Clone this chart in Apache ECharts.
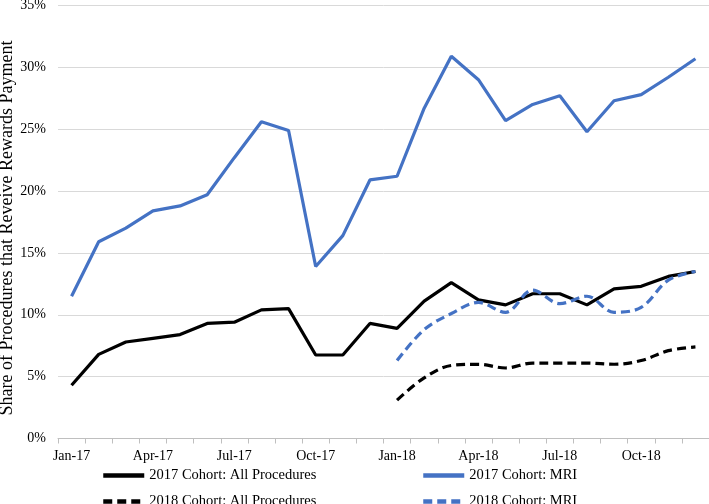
<!DOCTYPE html>
<html><head><meta charset="utf-8">
<script src="https://cdn.jsdelivr.net/npm/echarts@6/dist/echarts.min.js"></script>
<style>html,body{margin:0;padding:0;background:#fff}#c{width:709px;height:504px}</style>
</head><body><div id="c"></div>
<script>
const months = ['Jan-17','Feb-17','Mar-17','Apr-17','May-17','Jun-17','Jul-17','Aug-17','Sep-17','Oct-17','Nov-17','Dec-17',
  'Jan-18','Feb-18','Mar-18','Apr-18','May-18','Jun-18','Jul-18','Aug-18','Sep-18','Oct-18','Nov-18','Dec-18'];
const cohort2017All = [4.3,6.8,7.8,8.1,8.4,9.3,9.4,10.4,10.5,6.75,6.75,9.3,8.9,11.1,12.6,11.2,10.8,11.7,11.7,10.8,12.1,12.3,13.1,13.5];
const cohort2017MRI = [11.5,15.9,17.0,18.4,18.8,19.7,22.7,25.6,24.9,13.9,16.4,20.9,21.2,26.7,30.9,29.0,25.7,27.0,27.7,24.8,27.3,27.8,29.2,30.7];
const cohort2018All = [null,null,null,null,null,null,null,null,null,null,null,null,3.1,4.9,5.9,6.0,5.7,6.1,6.1,6.1,6.0,6.3,7.1,7.4];
const cohort2018MRI = [null,null,null,null,null,null,null,null,null,null,null,null,6.3,8.8,10.1,11.0,10.2,12.0,10.9,11.5,10.2,10.6,12.8,13.5];
const yTicks = [0,5,10,15,20,25,30,35];

const font = '"Liberation Serif","DejaVu Serif",serif';
const blue = '#4472C4';
const chart = echarts.init(document.getElementById('c'));
function legend(name, left, top){
  return {data:[name], left:left, top:top, itemWidth:41, itemHeight:14, itemGap:5,
    itemStyle:{opacity:0, borderWidth:0},
    lineStyle:{width:4.5},
    textStyle:{fontFamily:font, fontSize:14.5, color:'#000'}, selectedMode:false, padding:0};
}
chart.setOption({
  animation:false,
  grid:{left:58, right:0, top:5.5, bottom:65.5, containLabel:false, outerBoundsMode:'none'},
  legend:[
    legend('2017 Cohort: All Procedures', 101, 468),
    legend('2017 Cohort: MRI', 421, 468),
    legend('2018 Cohort: All Procedures', 101, 494),
    legend('2018 Cohort: MRI', 421, 494)
  ],
  xAxis:{type:'category', data:months, boundaryGap:true,
    axisLine:{lineStyle:{color:'#bfbfbf', width:1}},
    axisTick:{show:true, interval:0, length:5, lineStyle:{color:'#bfbfbf'}},
    axisLabel:{interval:2, fontFamily:font, fontSize:14, color:'#000', margin:11}},
  yAxis:{type:'value', min:yTicks[0], max:yTicks[yTicks.length-1], interval:5,
    name:'Share of Procedures that Reveive Rewards Payment', nameLocation:'middle', nameGap:42, nameRotate:90,
    nameMoveOverlap:false,
    nameTextStyle:{fontFamily:font, fontSize:18, color:'#000', padding:[0,12,0,0]},
    axisLabel:{formatter:v=>v+'%', fontFamily:font, fontSize:14, color:'#000', margin:12},
    axisLine:{show:false}, axisTick:{show:false},
    splitLine:{lineStyle:{color:'#d9d9d9', width:1}}},
  series:[
    {name:'2017 Cohort: All Procedures', type:'line', data:cohort2017All, symbol:'none', lineStyle:{color:'#000', width:3.2}, itemStyle:{color:'#000'}},
    {name:'2017 Cohort: MRI', type:'line', data:cohort2017MRI, symbol:'none', lineStyle:{color:blue, width:3.2}, itemStyle:{color:blue}},
    {name:'2018 Cohort: All Procedures', type:'line', data:cohort2018All, symbol:'none', smooth:0.35, lineStyle:{color:'#000', width:3.2, type:[9,5]}, itemStyle:{color:'#000'}},
    {name:'2018 Cohort: MRI', type:'line', data:cohort2018MRI, symbol:'none', smooth:0.35, lineStyle:{color:blue, width:3.2, type:[9,5]}, itemStyle:{color:blue}}
  ]
});
</script></body></html>
